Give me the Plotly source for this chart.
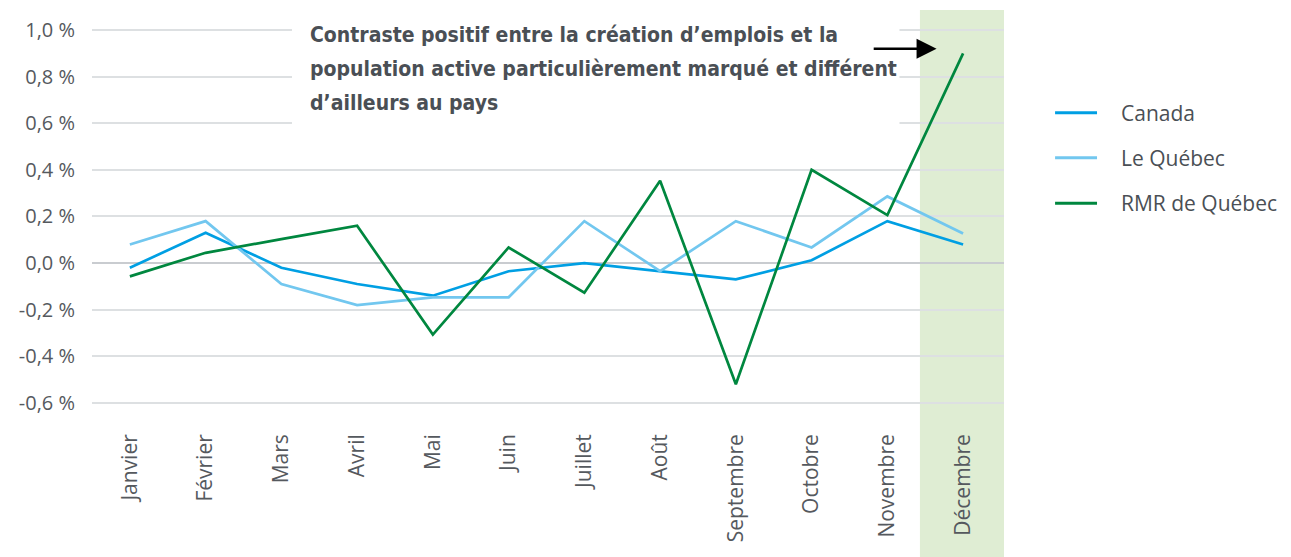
import plotly.graph_objects as go

months = ["Janvier", "Février", "Mars", "Avril", "Mai", "Juin", "Juillet",
          "Août", "Septembre", "Octobre", "Novembre", "Décembre"]
canada = [-0.02, 0.13, -0.02, -0.09, -0.14, -0.035, 0.0, -0.035, -0.07, 0.012, 0.18, 0.08]
quebec = [0.08, 0.18, -0.09, -0.18, -0.147, -0.147, 0.18, -0.035, 0.18, 0.067, 0.286, 0.127]
rmr = [-0.057, 0.044, 0.103, 0.16, -0.307, 0.067, -0.127, 0.353, -0.52, 0.40, 0.206, 0.90]

series_names = ["Canada", "Le Québec", "RMR de Québec"]
series_colors = ["#009fe3", "#72c7ef", "#00873f"]

y_tickvals = [-0.6, -0.4, -0.2, 0.0, 0.2, 0.4, 0.6, 0.8, 1.0]
y_ticktext = ["-0,6 %", "-0,4 %", "-0,2 %", "0,0 %", "0,2 %", "0,4 %", "0,6 %", "0,8 %", "1,0 %"]

note_lines = ["Contraste positif entre la création d’emplois et la",
              "population active particulièrement marqué et différent",
              "d’ailleurs au pays"]

x = list(range(len(months)))
text_color = "#55595e"
y_tick_font = dict(family="Open Sans, Noto Sans, sans-serif", size=20, color=text_color)
x_tick_font = dict(family="Open Sans, Noto Sans, sans-serif", size=21, color=text_color)

fig = go.Figure()
for name, vals, col in zip(series_names, [canada, quebec, rmr], series_colors):
    fig.add_trace(go.Scatter(x=x, y=vals, mode="lines", name=name, showlegend=False,
                             line=dict(color=col, width=2.7)))

# Highlight band for December
fig.add_shape(type="rect", xref="x", yref="paper", x0=10.43, x1=11.54, y0=-0.36, y1=1.0,
              fillcolor="#dfedd3", line=dict(width=0), layer="below")
# White box behind the note
fig.add_shape(type="rect", xref="x", yref="y", x0=2.14, x1=10.16, y0=0.571, y1=1.09,
              fillcolor="white", line=dict(width=0), layer="between")

note_font = dict(family="Liberation Sans Narrow, DejaVu Sans Condensed, Arial Narrow, sans-serif",
                 size=21, color="#4a4f55", weight="bold")
for i, line in enumerate(note_lines):
    fig.add_annotation(xref="x", yref="y", x=2.35, y=0.978 - i * 0.146, text=line,
                       showarrow=False, xanchor="left", yanchor="middle", font=note_font)

# Arrow
fig.add_annotation(xref="x", yref="y", axref="x", ayref="y", x=10.65, y=0.92, ax=9.8, ay=0.92,
                   text="", showarrow=True, arrowhead=2, arrowsize=1.6, arrowwidth=2.5,
                   arrowcolor="black")

# Legend (drawn as keys + labels)
legend_y = [0.746, 0.635, 0.523]
for name, col, ly in zip(series_names, series_colors, legend_y):
    fig.add_shape(type="line", xref="paper", yref="paper", x0=1.056, x1=1.102, y0=ly, y1=ly,
                  line=dict(color=col, width=3))
    fig.add_annotation(xref="paper", yref="paper", x=1.126, y=ly, text=name, showarrow=False,
                       xanchor="left", yanchor="middle",
                       font=dict(family="Open Sans, Noto Sans, sans-serif", size=21, color="#4a4f55"))

fig.update_layout(
    width=1283, height=549,
    margin=dict(l=84, r=287, t=2, b=142),
    plot_bgcolor="white", paper_bgcolor="white",
    showlegend=False,
)
fig.update_xaxes(range=[-0.5, 11.54], tickmode="array", tickvals=x, ticktext=months,
                 tickangle=-90, tickfont=x_tick_font, showgrid=False, zeroline=False,
                 showline=False, ticks="", ticklabelstandoff=14)
fig.update_yaxes(range=[-0.652, 1.086], tickmode="array", tickvals=y_tickvals, ticktext=y_ticktext,
                 tickfont=y_tick_font, showgrid=True, gridcolor="#dde0e2", gridwidth=2,
                 zeroline=True, zerolinecolor="#c9ccd0", zerolinewidth=2,
                 showline=False, ticks="", ticklabelstandoff=16)

fig.write_html("out.html")
